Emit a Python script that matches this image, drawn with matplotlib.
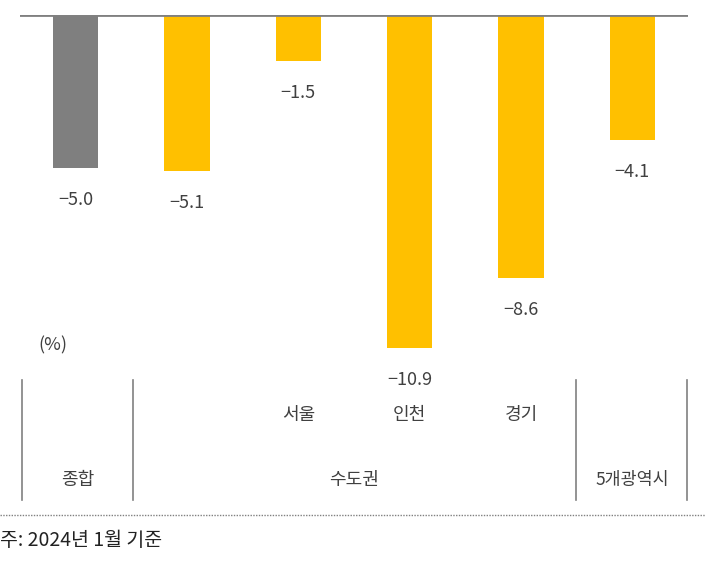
import matplotlib.pyplot as plt
from matplotlib.lines import Line2D

plt.rcParams['font.family'] = ['Noto Sans CJK KR', 'DejaVu Sans']

regions = ['종합', '수도권', '서울', '인천', '경기', '5개광역시']
values = [-5.0, -5.1, -1.5, -10.9, -8.6, -4.1]
colors = ['#7f7f7f', '#ffc000', '#ffc000', '#ffc000', '#ffc000', '#ffc000']

W, H = 706, 562
fig = plt.figure(figsize=(W / 100, H / 100), dpi=100)

# bar area: zero line at pixel y=15, 30.6 px per unit
ax = fig.add_axes([20 / W, (H - 397) / H, 668 / W, 382 / H])
x = list(range(len(values)))
ax.bar(x, values, width=0.41, color=colors, zorder=2)
ax.axhline(0, color='#808080', lw=2, zorder=3)
ax.set_xlim(-0.5, 5.5)
ax.set_ylim(-12.5, 0)
ax.axis('off')

for xi, v in zip(x, values):
    ax.text(xi, v - 1.05, f'{v:.1f}'.replace('-', '−'), ha='center', va='center',
            fontsize=13, color='#404040')

fig.text(38 / W, 1 - 345 / H, '(%)', fontsize=13, color='#404040', va='center')

# table lines under the chart
for px in [22, 133, 576, 687]:
    fig.add_artist(Line2D([px / W, px / W], [1 - 380 / H, 1 - 500 / H],
                          color='#808080', lw=1.2))
fig.add_artist(Line2D([0, 1], [1 - 515 / H, 1 - 515 / H], color='#808080',
                      lw=1, ls=(0, (1, 1))))

def px_x(i):
    return (20 + (i + 0.5) * 668 / 6) / W

for i, name in zip([2, 3, 4], ['서울', '인천', '경기']):
    fig.text(px_x(i), 1 - 415 / H, name, ha='center', va='center', fontsize=13, color='#404040')
fig.text(78 / W, 1 - 480 / H, '종합', ha='center', va='center', fontsize=13, color='#404040')
fig.text(354 / W, 1 - 480 / H, '수도권', ha='center', va='center', fontsize=13, color='#404040')
fig.text(632 / W, 1 - 480 / H, '5개광역시', ha='center', va='center', fontsize=12.5, color='#404040')

fig.text(0, 1 - 541 / H, '주: 2024년 1월 기준', ha='left', va='center', fontsize=14, color='#222222')

fig.savefig('out.png', dpi=100)
